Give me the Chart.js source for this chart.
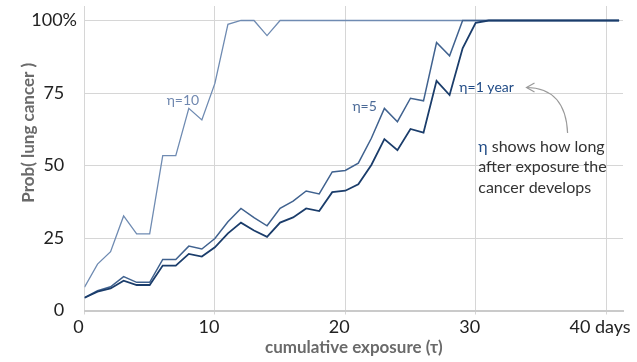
<!DOCTYPE html>
<html>
<head>
<meta charset="utf-8">
<script src="https://cdn.jsdelivr.net/npm/chart.js@4/dist/chart.umd.min.js"></script>
<style>
  html, body { margin: 0; padding: 0; background: #fff; }
  #wrap { width: 637px; height: 362px; position: relative; }
</style>
</head>
<body>
<div id="wrap"><canvas id="chart"></canvas></div>
<script>
// ---- data ----
const days = [0, 1, 2, 3, 4, 5, 6, 7, 8, 9, 10, 11, 12, 13, 14, 15, 16, 17, 18, 19, 20,
              21, 22, 23, 24, 25, 26, 27, 28, 29, 30, 31, 32, 33, 34, 35, 36, 37, 38, 39, 40, 41];

const eta1 = [4.4, 6.5, 7.6, 10.3, 8.8, 8.8, 15.5, 15.5, 19.5, 18.6, 21.8, 26.6, 30.3, 27.6,
              25.4, 30.3, 32.1, 35.2, 34.3, 40.8, 41.3, 43.5, 50.2, 59.1, 55.3, 62.6, 61.3,
              79.2, 74.3, 90.4, 99.2, 100, 100, 100, 100, 100, 100, 100, 100, 100, 100, 100];

const eta5 = [4.4, 6.8, 8.2, 11.7, 9.7, 9.7, 17.6, 17.6, 22.2, 21.2, 24.8, 30.6, 35.2, 32.0,
              29.2, 35.2, 37.7, 41.2, 40.2, 47.8, 48.3, 50.8, 59.4, 69.7, 65.1, 73.2, 72.3,
              92.4, 87.8, 100, 100, 100, 100, 100, 100, 100, 100, 100, 100, 100, 100, 100];

const eta10 = [8.0, 16.0, 20.3, 32.6, 26.4, 26.4, 53.4, 53.4, 69.7, 65.7, 78.3, 98.7, 100, 100,
               94.8, 100, 100, 100, 100, 100, 100, 100, 100, 100, 100, 100, 100, 100, 100,
               100, 100, 100, 100, 100, 100, 100, 100, 100, 100, 100, 100, 100];

const xTicks = [0, 10, 20, 30, 40];
const yTicks = [0, 25, 50, 75, 100];

const FONT = 'Lato, "Noto Sans", sans-serif';
Chart.defaults.font.family = FONT;

function pts(ys) {
    return days.map((d, i) => ({ x: d, y: ys[i] }));
}

// ---- labels + arrow drawn on top ----
const notes = {
    id: "notes",
    afterDatasetsDraw(chart) {
        const ctx = chart.ctx;
        const xs = chart.scales.x;
        const ys = chart.scales.y;
        const px = v => xs.getPixelForValue(v);
        const py = v => ys.getPixelForValue(v);

        ctx.save();
        ctx.textBaseline = "middle";
        ctx.textAlign = "left";
        ctx.font = "14px " + FONT;

        ctx.fillStyle = "#7189b0";
        ctx.fillText("η=10", px(6.3), py(72.4));
        ctx.fillStyle = "#4b6a97";
        ctx.fillText("η=5", px(20.55), py(70.5));
        ctx.fillStyle = "#1f4a85";
        ctx.fillText("η=1 year", px(28.75), py(76.9));

        // explanation text
        ctx.textBaseline = "alphabetic";
        ctx.font = "16px " + FONT;
        const tx = px(30.2);
        ctx.fillStyle = "#1f4a85";
        ctx.fillText("η", tx, py(54.7));
        const w = ctx.measureText("η").width;
        ctx.fillStyle = "#333";
        ctx.fillText(" shows how long", tx + w, py(54.7));
        ctx.fillText("after exposure the", tx, py(47.6));
        ctx.fillText("cancer develops", tx, py(40.5));

        // curved arrow
        const sx = px(37.05), sy = py(61.2);
        const cx = px(36.9), cy = py(76.7);
        const ex = px(33.9), ey = py(76.9);
        ctx.strokeStyle = "#9a9a9a";
        ctx.lineWidth = 1.2;
        ctx.beginPath();
        ctx.moveTo(sx, sy);
        ctx.quadraticCurveTo(cx, cy, ex, ey);
        ctx.stroke();
        ctx.beginPath();
        ctx.moveTo(ex + 8, ey - 4.5);
        ctx.lineTo(ex, ey);
        ctx.lineTo(ex + 8, ey + 4.5);
        ctx.stroke();
        ctx.restore();
    }
};

new Chart(document.getElementById("chart"), {
    type: "line",
    data: {
        datasets: [
            { label: "η=1", data: pts(eta1), borderColor: "#1b3d6b", borderWidth: 1.8 },
            { label: "η=5", data: pts(eta5), borderColor: "#40628f", borderWidth: 1.5 },
            { label: "η=10", data: pts(eta10), borderColor: "#6f8bb2", borderWidth: 1.3 }
        ]
    },
    options: {
        responsive: true,
        maintainAspectRatio: false,
        animation: false,
        events: [],
        elements: { point: { radius: 0 }, line: { tension: 0 } },
        layout: { padding: { top: 6, right: 14, left: 0, bottom: 0 } },
        plugins: { legend: { display: false }, tooltip: { enabled: false } },
        scales: {
            x: {
                type: "linear",
                min: 0,
                max: 41.3,
                afterFit: s => {
                    s.height = 51.5;
                    s.paddingLeft = 0;
                    s.paddingRight = 0;
                },
                afterBuildTicks: s => { s.ticks = xTicks.map(v => ({ value: v })); },
                grid: { color: "#d6d6d6", lineWidth: 1, drawTicks: true, tickLength: 4 },
                border: { display: true, color: "#cacaca", width: 2 },
                ticks: {
                    padding: 2,
                    labelOffset: -6,
                    color: "#222",
                    font: { size: 18 },
                    maxRotation: 0,
                    callback: v => v === 40 ? "40 days" : String(v)
                },
                title: {
                    display: true,
                    text: "cumulative exposure (τ)",
                    color: "#6a6a6a",
                    font: { size: 17, weight: "bold", lineHeight: 1.2 },
                    padding: { top: 0, bottom: 4 }
                }
            },
            y: {
                min: 0,
                max: 105,
                afterFit: s => {
                    s.width = 84.5;
                    s.paddingTop = 0;
                    s.paddingBottom = 0;
                },
                afterBuildTicks: s => { s.ticks = yTicks.map(v => ({ value: v })); },
                grid: { color: "#d6d6d6", lineWidth: 1, drawTicks: false },
                border: { display: false },
                ticks: {
                    padding: 7.5,
                    color: "#222",
                    font: { size: 18 },
                    callback: v => v === 100 ? "100%" : String(v) + "\u2007\u2009"
                },
                title: {
                    display: true,
                    text: "\u2003\u2003\u2003\u2003Prob( lung cancer )",
                    color: "#6a6a6a",
                    font: { size: 17, weight: "bold", lineHeight: 1.2 },
                    padding: { top: 18, bottom: 0 }
                }
            }
        }
    },
    plugins: [notes]
});
</script>
</body>
</html>
